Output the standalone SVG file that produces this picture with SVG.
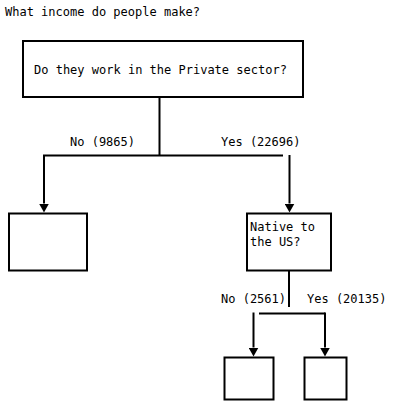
<svg xmlns="http://www.w3.org/2000/svg" width="406" height="417" viewBox="0 0 406 417">
  <defs>
    <style>
      text { font-family: "DejaVu Sans Mono", "Liberation Mono", monospace; font-size: 12px; fill: #000; }
      .box { fill: #fff; stroke: #000; stroke-width: 2; }
      .line { fill: none; stroke: #000; stroke-width: 2; }
      .arrow { fill: none; stroke: #000; stroke-width: 2; marker-end: url(#arrow); }
    </style>
    <marker id="arrow" markerUnits="userSpaceOnUse" markerWidth="9" markerHeight="10" viewBox="0 0 9 10" refX="0" refY="5" orient="auto">
      <polygon points="0,0 9,5 0,10" fill="#000"/>
    </marker>
  </defs>
  <rect width="406" height="417" fill="#fff"/>
  <text x="5" y="15.5">What income do people make?</text>

  <g id="connectors">
    <path class="line" d="M159.5,98 V155.5"/>
    <path class="line" d="M43,155.5 H283"/>
    <path class="arrow" d="M44,155.5 V203.5"/>
    <path class="arrow" d="M289.5,155 V203.5"/>
    <text x="70" y="145.5">No (9865)</text>
    <text x="221" y="145.5">Yes (22696)</text>

    <path class="line" d="M289,271 V307"/>
    <path class="line" d="M259,313.5 H325"/>
    <path class="arrow" d="M253.5,312.5 V347.5"/>
    <path class="arrow" d="M325,312.5 V347.5"/>
    <text x="221" y="303">No (2561)</text>
    <text x="307" y="303">Yes (20135)</text>
  </g>

  <g id="node-private">
    <rect class="box" x="23" y="41" width="280" height="56"/>
    <text x="34" y="73.5">Do they work in the Private sector?</text>
  </g>
  <g id="node-no-private">
    <rect class="box" x="9" y="213.5" width="78" height="57"/>
  </g>
  <g id="node-native">
    <rect class="box" x="247" y="213.5" width="84" height="57"/>
    <text x="250" y="231">Native to</text>
    <text x="250" y="245.5">the US?</text>
  </g>
  <g id="node-not-native">
    <rect class="box" x="224.5" y="357.5" width="49" height="42"/>
  </g>
  <g id="node-native-yes">
    <rect class="box" x="304.5" y="357.5" width="42" height="42"/>
  </g>
</svg>
